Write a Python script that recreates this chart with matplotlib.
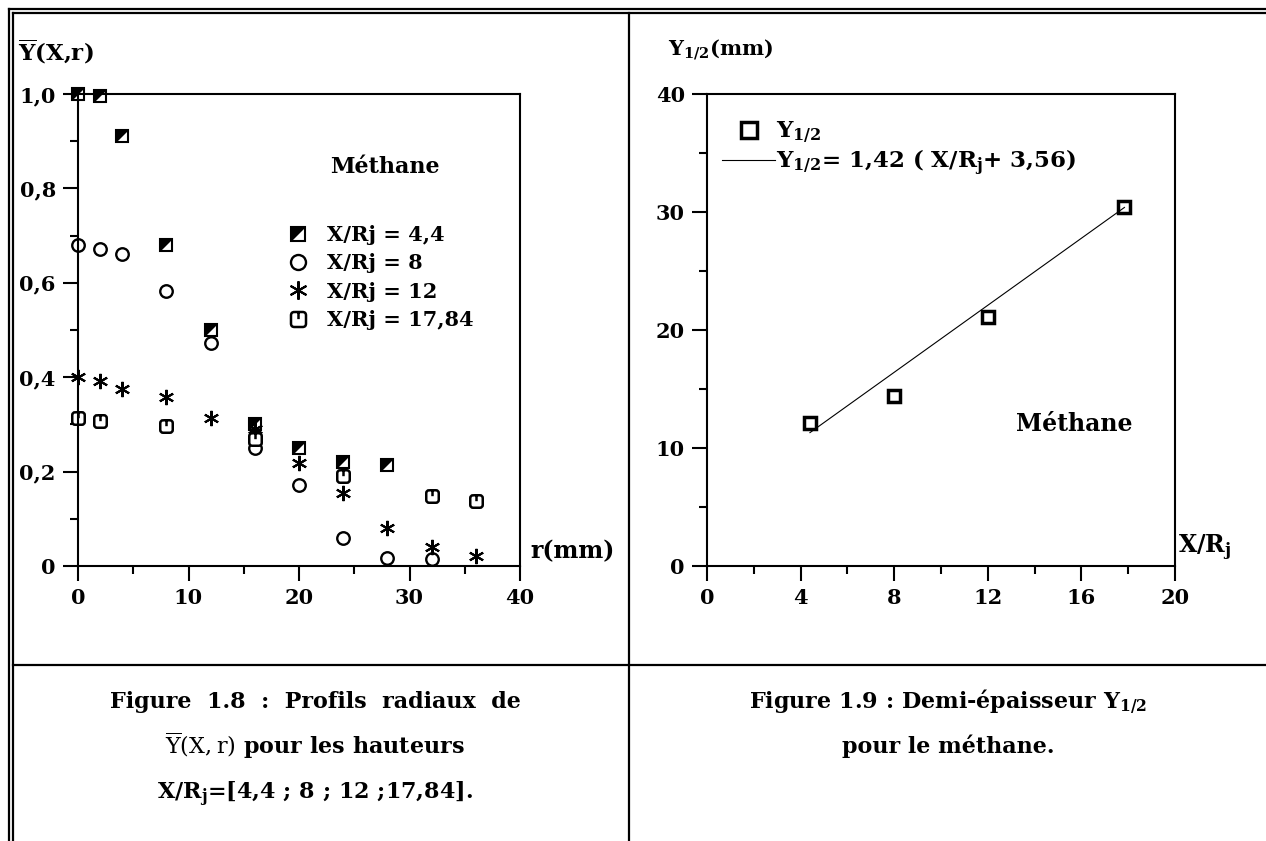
import numpy as np
import matplotlib
matplotlib.use('Agg')
import matplotlib.pyplot as plt
from matplotlib.path import Path
from matplotlib.lines import Line2D
from matplotlib.legend_handler import HandlerTuple

plt.rcParams['font.family'] = 'DejaVu Serif'
plt.rcParams['font.weight'] = 'bold'
plt.rcParams['mathtext.fontset'] = 'custom'
plt.rcParams['mathtext.rm'] = 'DejaVu Serif:weight=normal'
plt.rcParams['mathtext.bf'] = 'DejaVu Serif:weight=bold'
plt.rcParams['mathtext.it'] = 'DejaVu Serif:italic'

# Profils radiaux Y(X,r) - methane
r_44 = [0, 2, 4, 8, 12, 16, 20, 24, 28]
y_44 = [1.0, 0.995, 0.91, 0.68, 0.50, 0.30, 0.25, 0.22, 0.213]
r_8 = [0, 2, 4, 8, 12, 16, 20, 24, 28, 32]
y_8 = [0.68, 0.672, 0.66, 0.583, 0.472, 0.25, 0.172, 0.06, 0.018, 0.014]
r_12 = [0, 2, 4, 8, 12, 16, 20, 24, 28, 32, 36]
y_12 = [0.40, 0.393, 0.375, 0.357, 0.313, 0.29, 0.219, 0.155, 0.08, 0.04, 0.021]
r_1784 = [0, 2, 8, 16, 24, 32, 36]
y_1784 = [0.313, 0.307, 0.296, 0.27, 0.19, 0.148, 0.138]
labels_left = ['X/Rj = 4,4', 'X/Rj = 8', 'X/Rj = 12', 'X/Rj = 17,84']

# Demi-epaisseur Y1/2
x_rj = [4.4, 8, 12, 17.84]
y_half = [12.1, 14.4, 21.1, 30.4]
fit_a = 1.42
fit_b = 3.56

W, H = 1266, 841
fig = plt.figure(figsize=(W / 100, H / 100), dpi=100)


def fx(px):
    return px / W


def fy(py):
    return 1 - py / H


# markers: upper-left filled triangle, rounded square with a tick
tri_ul = [(-1, -1), (-1, 1), (1, 1)]
c = 0.55
theta_verts = [(-c, 1), (c, 1), (1, 1), (1, c), (1, -c), (1, -1), (c, -1),
               (-c, -1), (-1, -1), (-1, -c), (-1, c), (-1, 1), (-c, 1),
               (0, 1), (0, 0.05)]
theta_codes = [Path.MOVETO, Path.LINETO, Path.CURVE3, Path.CURVE3, Path.LINETO,
               Path.CURVE3, Path.CURVE3, Path.LINETO, Path.CURVE3, Path.CURVE3,
               Path.LINETO, Path.CURVE3, Path.CURVE3, Path.MOVETO, Path.LINETO]
theta_marker = Path(theta_verts, theta_codes)


def style_axes(ax):
    for s in ax.spines.values():
        s.set_linewidth(1.5)
    ax.tick_params(which='major', direction='out', length=11, width=1.5,
                   labelsize=15, pad=5)
    ax.tick_params(which='minor', direction='out', length=6, width=1.5)
    for t in ax.get_xticklabels() + ax.get_yticklabels():
        t.set_fontweight('bold')


# ---- left chart
ax1 = fig.add_axes([fx(78), fy(566), fx(442), 472 / H])
sq, = ax1.plot(r_44, y_44, ls='none', marker='s', ms=8, mfc='white',
               mec='black', mew=1.5, clip_on=False)
tri, = ax1.plot(r_44, y_44, ls='none', marker=tri_ul, ms=8, mfc='black',
                mec='black', mew=0.5, clip_on=False)
circ, = ax1.plot(r_8, y_8, ls='none', marker='o', ms=9, mfc='white',
                 mec='black', mew=1.7, clip_on=False)
star, = ax1.plot(r_12, y_12, ls='none', marker=(6, 2, 0), ms=11,
                 mec='black', mew=1.5, clip_on=False)
th, = ax1.plot(r_1784, y_1784, ls='none', marker=theta_marker, ms=9,
               mfc='white', mec='black', mew=1.8, clip_on=False)
ax1.set_xlim(0, 40)
ax1.set_ylim(0, 1.0)
ax1.set_xticks([0, 10, 20, 30, 40])
ax1.set_xticks([5, 15, 25, 35], minor=True)
ax1.set_yticks([0, 0.2, 0.4, 0.6, 0.8, 1.0])
ax1.set_yticks([0.1, 0.3, 0.5, 0.7, 0.9], minor=True)
ax1.set_yticklabels(['0', '0,2', '0,4', '0,6', '0,8', '1,0'])
style_axes(ax1)
ax1.legend([(sq, tri), circ, star, th], labels_left,
           handler_map={tuple: HandlerTuple(ndivide=1)},
           loc='upper left', bbox_to_anchor=(0.45, 0.74), frameon=False,
           handlelength=1.2, handletextpad=0.8, labelspacing=0.4,
           markerscale=1.2, prop={'size': 15, 'weight': 'bold'},
           borderaxespad=0)
ax1.text(0.695, 0.845, 'Méthane', transform=ax1.transAxes, ha='center',
         va='center', fontsize=16, fontweight='bold')
fig.text(fx(18), fy(52), r'$\overline{\mathbf{Y}}$(X,r)', ha='left',
         va='center', fontsize=16.5, fontweight='bold')
fig.text(fx(530), fy(551), 'r(mm)', ha='left', va='center', fontsize=17,
         fontweight='bold')

# ---- right chart
ax2 = fig.add_axes([fx(707), fy(566), fx(468), 472 / H])
pts, = ax2.plot(x_rj, y_half, ls='none', marker='s', ms=9, mfc='white',
                mec='black', mew=2.5, clip_on=False)
xf = np.array([x_rj[0], x_rj[-1]])
fit, = ax2.plot(xf, fit_a * (xf + fit_b), color='black', lw=0.8)
ax2.set_xlim(0, 20)
ax2.set_ylim(0, 40)
ax2.set_xticks([0, 4, 8, 12, 16, 20])
ax2.set_xticks([2, 6, 10, 14, 18], minor=True)
ax2.set_yticks([0, 10, 20, 30, 40])
ax2.set_yticks([5, 15, 25, 35], minor=True)
style_axes(ax2)
ax2.legend([pts, fit],
           [r'$\mathbf{Y}_{\mathbf{1/2}}$',
            r'$\mathbf{Y}_{\mathbf{1/2}}$= 1,42 ( X/R$_{\mathbf{j}}$+ 3,56)'],
           loc='upper left', bbox_to_anchor=(0.013, 0.965), frameon=False,
           handlelength=2.3, handletextpad=0.05, labelspacing=0.1,
           markerscale=1.3, prop={'size': 16.5, 'weight': 'bold'},
           borderaxespad=0)
ax2.text(0.785, 0.3, 'Méthane', transform=ax2.transAxes, ha='center',
         va='center', fontsize=17, fontweight='bold')
fig.text(fx(668), fy(50), r'$\mathbf{Y}_{\mathbf{1/2}}$(mm)', ha='left',
         va='center', fontsize=15, fontweight='bold')
fig.text(fx(1178), fy(548), r'X/R$_{\mathbf{j}}$', ha='left', va='center',
         fontsize=17, fontweight='bold')

# ---- captions
fig.text(fx(315), fy(702), 'Figure  1.8  :  Profils  radiaux  de', ha='center',
         va='center', fontsize=16, fontweight='bold')
fig.text(fx(315), fy(746),
         r'$\overline{\mathrm{Y}}(\mathrm{X},\mathrm{r})$ pour les hauteurs',
         ha='center', va='center', fontsize=16, fontweight='bold')
fig.text(fx(315), fy(794), r'X/R$_{\mathbf{j}}$=[4,4 ; 8 ; 12 ;17,84].',
         ha='center', va='center', fontsize=16, fontweight='bold')
fig.text(fx(948), fy(702), r'Figure 1.9 : Demi-épaisseur Y$_{\mathbf{1/2}}$',
         ha='center', va='center', fontsize=16, fontweight='bold')
fig.text(fx(948), fy(746), 'pour le méthane.', ha='center', va='center',
         fontsize=16, fontweight='bold')

# ---- table frame
frame = [
    ([9, W], [9, 9]), ([13, W], [13, 13]),
    ([9, 9], [9, H]), ([13, 13], [13, H]),
    ([629, 629], [13, H]), ([13, W], [665, 665]),
]
for xs, ys in frame:
    fig.add_artist(Line2D([fx(v) for v in xs], [fy(v) for v in ys],
                          color='black', lw=1.6, transform=fig.transFigure))

fig.savefig('out.png', dpi=100)
